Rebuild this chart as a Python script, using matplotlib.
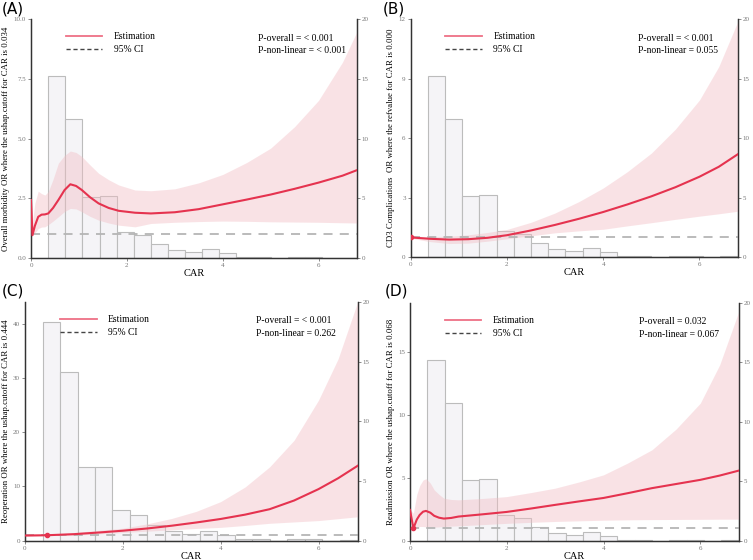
import matplotlib
matplotlib.use("Agg")
from matplotlib import pyplot as plt
from matplotlib.lines import Line2D

plt.rcParams['font.family'] = ['Liberation Serif', 'DejaVu Serif']

# histogram of CAR (right axis, 0-20)
bin_left = [0.36, 0.717, 1.074, 1.431, 1.788, 2.145, 2.502, 2.859, 3.216,
            3.573, 3.93, 4.287, 4.644, 5.001, 5.358, 5.715, 6.072, 6.429]
hist_std = [15.2, 11.6, 5.15, 5.2, 2.2, 1.9, 1.2, 0.7, 0.5, 0.76, 0.4, 0.1, 0.1,
            0.0, 0.1, 0.1, 0.0, 0.05]
hist_c = [18.3, 14.1, 6.15, 6.2, 2.55, 2.15, 1.3, 0.8, 0.55, 0.85, 0.45, 0.13,
          0.13, 0.0, 0.13, 0.13, 0.0, 0.05]

# (A) overall morbidity
a_x = [0, 0.03, 0.08, 0.15, 0.22, 0.29, 0.36, 0.46, 0.57, 0.7, 0.82, 0.94, 1.06,
       1.23, 1.41, 1.62, 1.83, 2.17, 2.5, 3.0, 3.5, 4.0, 4.5, 5.0, 5.5, 6.0, 6.5, 6.8]
a_est = [2.43, 0.96, 1.35, 1.73, 1.82, 1.83, 1.87, 2.1, 2.43, 2.85, 3.09, 3.02, 2.85,
         2.55, 2.29, 2.1, 1.98, 1.9, 1.87, 1.92, 2.05, 2.25, 2.45, 2.66, 2.9, 3.16,
         3.45, 3.68]
a_hi = [2.43, 1.5, 2.3, 2.8, 2.7, 2.64, 2.78, 3.3, 3.97, 4.3, 4.48, 4.42, 4.25,
        3.9, 3.55, 3.28, 3.06, 2.85, 2.82, 2.9, 3.15, 3.5, 4.0, 4.6, 5.5, 6.6, 8.2, 9.47]
a_lo = [2.43, 0.96, 1.05, 1.24, 1.3, 1.31, 1.4, 1.55, 1.73, 1.95, 2.08, 2.06, 1.94,
        1.75, 1.59, 1.47, 1.38, 1.31, 1.45, 1.5, 1.53, 1.55, 1.54, 1.52, 1.51, 1.5,
        1.48, 1.47]

# (B) CD3 complications
b_x = [0, 0.4, 0.8, 1.2, 1.6, 2.0, 2.5, 3.0, 3.5, 4.0, 4.5, 5.0, 5.5, 6.0, 6.4, 6.8]
b_est = [0.99, 0.92, 0.88, 0.9, 0.97, 1.1, 1.34, 1.62, 1.93, 2.27, 2.65, 3.06, 3.52,
         4.05, 4.55, 5.19]
b_hi = [1.05, 1.03, 1.05, 1.12, 1.24, 1.39, 1.75, 2.22, 2.8, 3.48, 4.3, 5.24, 6.45,
        7.92, 9.6, 11.9]
b_lo = [0.95, 0.78, 0.68, 0.7, 0.8, 0.92, 1.07, 1.22, 1.32, 1.4, 1.57, 1.73, 1.9,
        2.06, 2.18, 2.31]

# (C) reoperation
c_x = [0, 0.444, 1.0, 1.5, 2.0, 2.5, 3.0, 3.5, 4.0, 4.5, 5.0, 5.5, 6.0, 6.4, 6.8]
c_est = [0.95, 1.0, 1.2, 1.5, 1.84, 2.25, 2.76, 3.35, 4.0, 4.8, 5.8, 7.4, 9.5, 11.5, 13.8]
c_hi = [1.1, 1.05, 1.5, 1.9, 2.3, 3.1, 4.1, 5.4, 7.2, 9.9, 13.6, 18.5, 25.9, 33.5, 44.0]
c_lo = [0.8, 0.95, 1.0, 1.25, 1.5, 1.75, 2.0, 2.25, 2.45, 2.8, 3.2, 3.45, 3.7, 4.05, 4.4]

# (D) readmission
d_x = [0, 0.07, 0.14, 0.2, 0.27, 0.33, 0.42, 0.5, 0.6, 0.7, 0.85, 1.0, 1.5, 2.0, 2.5,
       3.0, 3.5, 4.0, 4.5, 5.0, 5.5, 6.0, 6.4, 6.8]
d_est = [2.47, 1.0, 1.7, 2.07, 2.33, 2.39, 2.25, 2.0, 1.85, 1.78, 1.83, 1.94, 2.12,
         2.31, 2.58, 2.87, 3.15, 3.42, 3.8, 4.2, 4.53, 4.86, 5.2, 5.6]
d_hi = [2.5, 2.2, 3.7, 4.4, 4.85, 4.95, 4.6, 4.06, 3.7, 3.4, 3.3, 3.27, 3.38, 3.53,
        3.85, 4.2, 4.7, 5.26, 6.2, 7.25, 8.9, 10.96, 14.0, 18.3]
d_lo = [2.4, 0.95, 1.05, 1.15, 1.15, 1.12, 1.1, 1.1, 1.12, 1.15, 1.18, 1.2, 1.3, 1.4,
        1.48, 1.55, 1.6, 1.65, 1.68, 1.7, 1.71, 1.72, 1.73, 1.73]

panels = [
    dict(tag="(A)", x=a_x, est=a_est, hi=a_hi, lo=a_lo, hist=hist_std, ylim=10,
         yticks=[0, 2.5, 5.0, 7.5, 10.0], yfmt="{:.1f}", mark=None,
         ylabel="Overall morbidity OR where the ushap.cutoff for CAR is 0.034",
         p1="P-overall = < 0.001", p2="P-non-linear = < 0.001",
         rect=[0.0412, 0.539, 0.4328, 0.427], tagpos=(0.002, 0.998)),
    dict(tag="(B)", x=b_x, est=b_est, hi=b_hi, lo=b_lo, hist=hist_std, ylim=12,
         yticks=[0, 3, 6, 9, 12], yfmt="{:.0f}", mark=(0.0, 0.99),
         ylabel="CD3 Complications  OR where the refvalue for CAR is 0.000",
         p1="P-overall = < 0.001", p2="P-non-linear = 0.055",
         rect=[0.5452, 0.541, 0.4349, 0.425], tagpos=(0.508, 0.998)),
    dict(tag="(C)", x=c_x, est=c_est, hi=c_hi, lo=c_lo, hist=hist_c, ylim=44,
         yticks=[0, 10, 20, 30, 40], yfmt="{:.0f}", mark=(0.444, 1.0),
         ylabel="Reoperation OR where the ushap.cutoff for CAR is 0.444",
         p1="P-overall = < 0.001", p2="P-non-linear = 0.262",
         rect=[0.0332, 0.0345, 0.4418, 0.4265], tagpos=(0.002, 0.494)),
    dict(tag="(D)", x=d_x, est=d_est, hi=d_hi, lo=d_lo, hist=hist_std, ylim=18.93,
         yticks=[0, 5, 10, 15], yfmt="{:.0f}", mark=(0.068, 1.0),
         ylabel="Readmission OR where the ushap.cutoff for CAR is 0.068",
         p1="P-overall = 0.032", p2="P-non-linear = 0.067",
         rect=[0.5445, 0.034, 0.4369, 0.425], tagpos=(0.511, 0.494)),
]

red = "#e5334f"
fig = plt.figure(figsize=(7.53, 5.60), dpi=100)

for p in panels:
    ax = fig.add_axes(p["rect"])
    ax2 = ax.twinx()
    # histogram on the right axis, behind everything
    ax2.bar(bin_left, p["hist"], width=0.357, align="edge", color="#f5f4f7",
            edgecolor="#bcbcbc", linewidth=0.8, zorder=1)
    ax2.set_ylim(0, 20)
    ax2.set_yticks([0, 5, 10, 15, 20])
    ax.set_zorder(ax2.get_zorder() + 1)
    ax.patch.set_visible(False)

    ax.fill_between(p["x"], p["lo"], p["hi"], color="#f2bcc3", alpha=0.42,
                    linewidth=0, zorder=1)
    ax.axhline(1, color="#b5b5b5", lw=1.3, ls=(0, (5, 4)), zorder=2)
    ax.plot(p["x"], p["est"], color=red, lw=1.5, zorder=3)
    if p["mark"]:
        ax.plot([p["mark"][0]], [p["mark"][1]], "o", color=red, ms=3, zorder=4)

    ax.set_xlim(0, 6.8)
    ax.set_ylim(0, p["ylim"])
    ax.set_xticks([0, 2, 4, 6])
    ax.set_yticks(p["yticks"])
    ax.set_yticklabels([p["yfmt"].format(v) for v in p["yticks"]])
    ax.set_xlabel("CAR", fontsize=7.5, labelpad=1)
    ax.set_ylabel(p["ylabel"], fontsize=6.3, labelpad=2.5)

    for a in (ax, ax2):
        a.tick_params(labelsize=5, colors="#777777", length=2, width=0.6, pad=1.5)
        a.spines["top"].set_visible(False)
        for s in ("left", "right", "bottom"):
            a.spines[s].set_linewidth(0.9)
            a.spines[s].set_color("#333333")

    handles = [Line2D([], [], color="#ee7186", lw=1.3),
               Line2D([], [], color="#444444", lw=1.0, ls=(0, (3, 2)))]
    ax.legend(handles, ["Estimation", "95% CI"], loc="upper left",
              bbox_to_anchor=(0.08, 0.98), frameon=False, fontsize=6.9,
              handlelength=3.8, handletextpad=1.2, labelspacing=0.4)
    ax.text(0.695, 0.92, p["p1"], transform=ax.transAxes, fontsize=6.9,
            va="center", zorder=5)
    ax.text(0.695, 0.868, p["p2"], transform=ax.transAxes, fontsize=6.9,
            va="center", zorder=5)

    fig.text(p["tagpos"][0], p["tagpos"][1], p["tag"], fontsize=11,
             family="DejaVu Sans", va="top")

fig.savefig("out.png", dpi=100)
